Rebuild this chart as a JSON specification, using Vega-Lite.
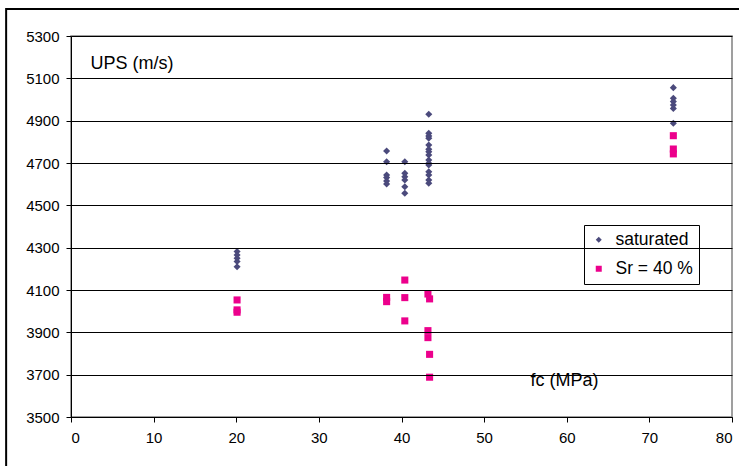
{
  "$schema": "https://vega.github.io/schema/vega-lite/v6.json",
  "width": 661,
  "height": 381,
  "autosize": {"type": "none"},
  "padding": {"left": 71, "top": 36, "right": 7, "bottom": 49},
  "background": "white",
  "config": {
    "font": "Liberation Sans",
    "view": {"stroke": "#808080", "strokeWidth": 1.5},
    "axis": {"labelColor": "#000", "tickColor": "#000", "domainColor": "#000", "titleColor": "#000", "labelFontSize": 15, "titleFontWeight": "normal", "titleFontSize": 18}
  },
  "layer": [
    {
      "data": {"values": [{}]},
      "mark": {"type": "rect", "fill": null, "stroke": "#000", "strokeWidth": 2, "clip": false},
      "encoding": {
        "x": {"datum": -7.85, "type": "quantitative"},
        "x2": {"datum": 100},
        "y": {"datum": 5427, "type": "quantitative"},
        "y2": {"datum": 3000}
      }
    },
    {
      "data": {"values": [{}]},
      "mark": {"type": "rect", "fill": "white", "stroke": null},
      "encoding": {
        "x": {"datum": 0.15, "type": "quantitative"},
        "x2": {"datum": 17.1},
        "y": {"datum": 5150, "type": "quantitative"},
        "y2": {"datum": 5050}
      }
    },
    {
      "data": {"values": [{}]},
      "mark": {"type": "rect", "fill": "white", "stroke": null},
      "encoding": {
        "x": {"datum": 54.3, "type": "quantitative"},
        "x2": {"datum": 70.9},
        "y": {"datum": 3750, "type": "quantitative"},
        "y2": {"datum": 3650}
      }
    },
    {
      "data": {
        "values": [
          {"fc": 20.1, "ups": 4282, "series": "saturated"},
          {"fc": 20.1, "ups": 4265, "series": "saturated"},
          {"fc": 20.1, "ups": 4250, "series": "saturated"},
          {"fc": 20.1, "ups": 4235, "series": "saturated"},
          {"fc": 20.1, "ups": 4210, "series": "saturated"},
          {"fc": 38.2, "ups": 4757, "series": "saturated"},
          {"fc": 38.2, "ups": 4706, "series": "saturated"},
          {"fc": 38.2, "ups": 4643, "series": "saturated"},
          {"fc": 38.2, "ups": 4631, "series": "saturated"},
          {"fc": 38.2, "ups": 4615, "series": "saturated"},
          {"fc": 38.2, "ups": 4601, "series": "saturated"},
          {"fc": 40.4, "ups": 4706, "series": "saturated"},
          {"fc": 40.4, "ups": 4651, "series": "saturated"},
          {"fc": 40.4, "ups": 4635, "series": "saturated"},
          {"fc": 40.4, "ups": 4620, "series": "saturated"},
          {"fc": 40.4, "ups": 4588, "series": "saturated"},
          {"fc": 40.4, "ups": 4557, "series": "saturated"},
          {"fc": 43.3, "ups": 4930, "series": "saturated"},
          {"fc": 43.3, "ups": 4840, "series": "saturated"},
          {"fc": 43.3, "ups": 4827, "series": "saturated"},
          {"fc": 43.3, "ups": 4817, "series": "saturated"},
          {"fc": 43.3, "ups": 4785, "series": "saturated"},
          {"fc": 43.3, "ups": 4765, "series": "saturated"},
          {"fc": 43.3, "ups": 4753, "series": "saturated"},
          {"fc": 43.3, "ups": 4738, "series": "saturated"},
          {"fc": 43.3, "ups": 4714, "series": "saturated"},
          {"fc": 43.3, "ups": 4699, "series": "saturated"},
          {"fc": 43.3, "ups": 4691, "series": "saturated"},
          {"fc": 43.3, "ups": 4659, "series": "saturated"},
          {"fc": 43.3, "ups": 4643, "series": "saturated"},
          {"fc": 43.3, "ups": 4620, "series": "saturated"},
          {"fc": 43.3, "ups": 4604, "series": "saturated"},
          {"fc": 72.9, "ups": 5056, "series": "saturated"},
          {"fc": 72.9, "ups": 5006, "series": "saturated"},
          {"fc": 72.9, "ups": 4990, "series": "saturated"},
          {"fc": 72.9, "ups": 4974, "series": "saturated"},
          {"fc": 72.9, "ups": 4958, "series": "saturated"},
          {"fc": 72.9, "ups": 4888, "series": "saturated"},
          {"fc": 20.1, "ups": 4053, "series": "Sr = 40 %"},
          {"fc": 20.1, "ups": 4006, "series": "Sr = 40 %"},
          {"fc": 20.1, "ups": 3995, "series": "Sr = 40 %"},
          {"fc": 38.2, "ups": 4065, "series": "Sr = 40 %"},
          {"fc": 38.2, "ups": 4045, "series": "Sr = 40 %"},
          {"fc": 40.4, "ups": 4147, "series": "Sr = 40 %"},
          {"fc": 40.4, "ups": 4064, "series": "Sr = 40 %"},
          {"fc": 40.4, "ups": 3954, "series": "Sr = 40 %"},
          {"fc": 43.2, "ups": 4081, "series": "Sr = 40 %"},
          {"fc": 43.4, "ups": 4058, "series": "Sr = 40 %"},
          {"fc": 43.2, "ups": 3908, "series": "Sr = 40 %"},
          {"fc": 43.2, "ups": 3875, "series": "Sr = 40 %"},
          {"fc": 43.4, "ups": 3796, "series": "Sr = 40 %"},
          {"fc": 43.4, "ups": 3688, "series": "Sr = 40 %"},
          {"fc": 72.9, "ups": 4829, "series": "Sr = 40 %"},
          {"fc": 72.9, "ups": 4766, "series": "Sr = 40 %"},
          {"fc": 72.9, "ups": 4743, "series": "Sr = 40 %"}
        ]
      },
      "mark": {"type": "point", "filled": true, "opacity": 1, "size": 50, "strokeWidth": 0},
      "encoding": {
        "x": {
          "field": "fc", "type": "quantitative",
          "scale": {"domain": [0, 80], "nice": false},
          "axis": {"values": [0, 10, 20, 30, 40, 50, 60, 70, 80], "grid": false, "zindex": 1, "title": "fc (MPa)", "titleAlign": "left", "titleX": 459, "titleY": -37, "titleBaseline": "middle", "tickSize": 5, "labelPadding": 8}
        },
        "y": {
          "field": "ups", "type": "quantitative",
          "scale": {"domain": [3500, 5300], "nice": false, "zero": false},
          "axis": {"values": [3500, 3700, 3900, 4100, 4300, 4500, 4700, 4900, 5100, 5300], "format": "d", "grid": true, "zindex": 1, "gridColor": "#000", "gridOpacity": 1, "title": "UPS (m/s)", "titleAngle": 0, "titleAlign": "left", "titleX": 19, "titleY": 27, "titleBaseline": "middle", "tickSize": 5, "labelPadding": 7}
        },
        "color": {
          "field": "series", "type": "nominal",
          "scale": {"domain": ["saturated", "Sr = 40 %"], "range": ["#4B4A7C", "#EC008C"]},
          "legend": {"title": null, "orient": "none", "legendX": 513, "legendY": 189, "strokeColor": "#000", "fillColor": "white", "padding": 6, "rowPadding": 10, "labelFontSize": 17.5, "symbolSize": 36, "labelOffset": 8, "labelColor": "#000"}
        },
        "shape": {
          "field": "series", "type": "nominal",
          "scale": {"domain": ["saturated", "Sr = 40 %"], "range": ["diamond", "square"]}
        }
      }
    }
  ]
}
